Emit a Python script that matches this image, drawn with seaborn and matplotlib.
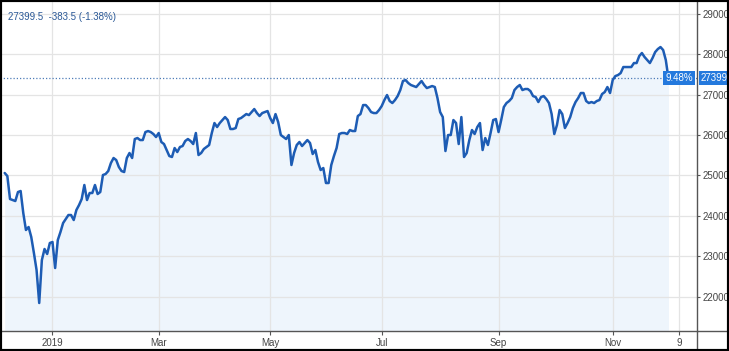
import numpy as np
import pandas as pd
import matplotlib
matplotlib.use("Agg")
import matplotlib.pyplot as plt
import matplotlib.transforms as mtrans
from matplotlib.patches import Rectangle
from matplotlib.lines import Line2D
import seaborn as sns

# ---- data: daily closes, grouped by month ----
dec_2018 = [25057, 24982, 24413, 24388, 24363, 24586, 24611, 24066, 23646, 23720,
            23473, 23077, 22656, 21839, 22903, 23176, 23052, 23324]
jan_2019 = [23349, 22705, 23398, 23596, 23819, 23918, 24017, 24017, 23893, 24141,
            24264, 24413, 24760, 24388, 24562, 24562, 24760, 24537, 24586, 25007, 25032]
feb_2019 = [25106, 25304, 25428, 25378, 25205, 25106, 25081, 25428, 25552, 25428,
            25898, 25923, 25873, 25873, 26071, 26096, 26071, 26022, 25948]
mar_2019 = [26047, 25824, 25774, 25626, 25477, 25453, 25675, 25576, 25700, 25725,
            25849, 25898, 25849, 25774, 26047, 25502, 25552, 25651, 25700, 25750, 26047]
apr_2019 = [26294, 26195, 26294, 26368, 26442, 26368, 26146, 26146, 26170, 26393,
            26417, 26467, 26516, 26491, 26566, 26640, 26541, 26467, 26541, 26566, 26591]
may_2019 = [26417, 26294, 26516, 26318, 25997, 25948, 25898, 25997, 25255, 25552,
            25750, 25824, 25725, 25799, 25873, 25799, 25527, 25626, 25329, 25131, 25180, 24809]
jun_2019 = [24809, 25255, 25477, 25675, 26022, 26047, 26047, 26022, 26121, 26096,
            26096, 26467, 26516, 26739, 26739, 26665, 26566, 26541, 26541, 26616]
jul_2019 = [26715, 26863, 26987, 26839, 26789, 26863, 26962, 27111, 27334, 27358,
            27284, 27235, 27210, 27185, 27259, 27334, 27235, 27160, 27185, 27210, 27185, 26913]
aug_2019 = [26566, 26442, 25601, 25997, 25997, 26368, 26294, 25774, 26442, 25453,
            25552, 25873, 26121, 26022, 26195, 26294, 25626, 25923, 25750, 26047, 26368, 26393]
sep_2019 = [26071, 26368, 26690, 26789, 26839, 26913, 27111, 27185, 27235, 27111,
            27136, 27136, 27086, 26962, 26937, 26814, 26937, 26962, 26888, 26789]
oct_2019 = [26516, 26022, 26245, 26616, 26516, 26170, 26294, 26442, 26665, 26814,
            26913, 27037, 27037, 26839, 26789, 26814, 26789, 26839, 26863, 27012,
            27061, 27185, 27037]
nov_2019 = [27358, 27457, 27482, 27531, 27680, 27680, 27680, 27680, 27779, 27779,
            27952, 28027, 27928, 27853, 27779, 27903, 28051, 28126, 28175, 28101]
dec_2019 = [27853, 27399.5]

market_holidays = ["2018-12-05", "2018-12-25", "2019-01-01", "2019-01-21", "2019-02-18",
                   "2019-04-19", "2019-05-27", "2019-07-04", "2019-09-02", "2019-11-28",
                   "2019-12-25"]
tick_dates = ["2019-01-02", "2019-03-01", "2019-05-01", "2019-07-01", "2019-09-03",
              "2019-11-01", "2019-12-09"]
tick_labels = ["2019", "Mar", "May", "Jul", "Sep", "Nov", "9"]
y_ticks = [22000, 23000, 24000, 25000, 26000, 27000, 28000, 29000]

last_value = 27399.5
day_change = -383.5
day_change_pct = -1.38
ytd_pct = 9.48

# ---- build ----
sns.set_theme(style="white")
plt.rcParams["font.family"] = ["Liberation Sans", "DejaVu Sans"]

values = np.concatenate([dec_2018, jan_2019, feb_2019, mar_2019, apr_2019, may_2019,
                         jun_2019, jul_2019, aug_2019, sep_2019, oct_2019, nov_2019,
                         dec_2019]).astype(float)
cal = pd.bdate_range("2018-12-04", "2019-12-31", freq="C", holidays=market_holidays)
df = pd.DataFrame({"day": np.arange(len(values)), "date": cal[:len(values)], "close": values})
tick_pos = [cal.get_loc(pd.Timestamp(d)) for d in tick_dates]

W, H = 729, 351
fig = plt.figure(figsize=(W / 100, H / 100), dpi=100)
fig.patch.set_facecolor("white")
ax_right_px = 697
ax_bottom_px = 20
ax_top_px = 2
ax = fig.add_axes([0, ax_bottom_px / H, ax_right_px / W, (H - ax_top_px - ax_bottom_px) / H])
ax.set_facecolor("white")

ymin, ymax = 21146, 29290
ax.fill_between(df["day"], df["close"], ymin, color="#eef5fc", lw=0, zorder=0.3)
sns.lineplot(data=df, x="day", y="close", ax=ax, color="#1d5cb4", lw=1.8, zorder=3)

ax.axhline(last_value, color="#4f7db8", ls=(0, (1, 1.6)), lw=0.9, zorder=2)

ax.set_xlim(-1.77, 260.75)
ax.set_ylim(ymin, ymax)
ax.set_xlabel("")
ax.set_ylabel("")

ax.set_xticks(tick_pos)
ax.set_xticklabels(tick_labels)
ax.yaxis.tick_right()
ax.set_yticks(y_ticks)
ax.set_yticklabels([f"{v:.2f}" for v in y_ticks])
ax.tick_params(axis="both", labelsize=7, labelcolor="#444444", color="#555555",
               length=3, width=0.8, direction="out")
ax.tick_params(axis="x", bottom=True, pad=2)
ax.tick_params(axis="y", right=True, left=False, length=2.5, pad=1.5)

ax.grid(True, color="#e4e4e4", lw=0.9)
ax.set_axisbelow(True)
for s in ["left", "top"]:
    ax.spines[s].set_visible(False)
for s in ["right", "bottom"]:
    ax.spines[s].set_visible(True)
    ax.spines[s].set_color("#555555")
    ax.spines[s].set_linewidth(1.0)

# extensions of the axis lines to the image edges
xr = ax_right_px / W
yb = ax_bottom_px / H
fig.add_artist(Line2D([xr, 1], [yb, yb], transform=fig.transFigure, color="#555555", lw=1.0))
fig.add_artist(Line2D([xr, xr], [0, yb], transform=fig.transFigure, color="#555555", lw=1.0))

# price / change labels on the right
blend = mtrans.blended_transform_factory(ax.transAxes, ax.transData)
ax.annotate(f"{ytd_pct:.2f}%", xy=(1, last_value), xycoords=blend,
            xytext=(-4, 0), textcoords="offset pixels", ha="right", va="center",
            fontsize=7, color="white", zorder=5,
            bbox=dict(boxstyle="square,pad=0.2", fc="#2479dd", ec="none"))
ax.annotate(f"{last_value:.2f}", xy=(1, last_value), xycoords=blend,
            xytext=(4, 0), textcoords="offset pixels", ha="left", va="center",
            fontsize=7, color="white", zorder=5, annotation_clip=False,
            bbox=dict(boxstyle="square,pad=0.2", fc="#2479dd", ec="none"))

fig.text(8 / W, 1 - 17 / H,
         f"{last_value:.1f}  {day_change:.1f} ({day_change_pct:.2f}%)",
         fontsize=7, color="#2a5896", va="center", ha="left")

fig.add_artist(Rectangle((0, 0), 1, 1, transform=fig.transFigure, fill=False,
                         ec="black", lw=3, zorder=10))

fig.savefig("out.png", dpi=100)
